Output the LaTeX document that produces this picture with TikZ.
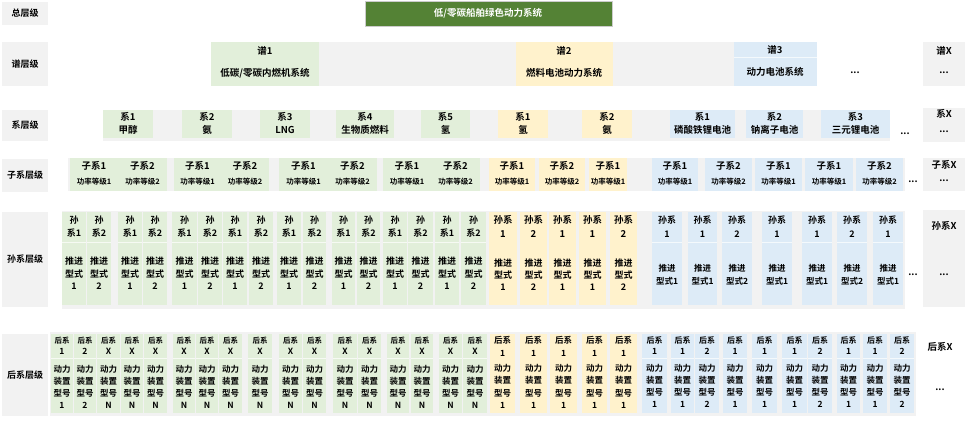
\documentclass[tikz,border=0pt]{standalone}
\usepackage{fontspec}
\setmainfont{Noto Sans CJK SC}[BoldFont={Noto Sans CJK SC Bold}]
\definecolor{tgreen}{HTML}{548235}
\definecolor{lgreen}{HTML}{E2EFDA}
\definecolor{lyellow}{HTML}{FFF2CC}
\definecolor{lblue}{HTML}{DDEBF7}
\definecolor{lgray}{HTML}{F2F2F2}
\begin{document}
\begin{tikzpicture}[x=1pt,y=-1pt,
  lab/.style={font=\bfseries\fontsize{9}{10}\selectfont, inner sep=0},
  t2/.style={font=\bfseries\fontsize{9.5}{11}\selectfont, inner sep=0},
  t4a/.style={font=\bfseries\fontsize{9.5}{11}\selectfont, inner sep=0},
  t4b/.style={font=\bfseries\fontsize{7.5}{9}\selectfont, inner sep=0},
  t5/.style={font=\bfseries\fontsize{9}{10}\selectfont, inner sep=0, align=center},
  t6/.style={font=\bfseries\fontsize{8.5}{10}\selectfont, inner sep=0, align=center},
  sep/.style={draw=white, line width=0.5pt, opacity=0.7}]
\useasboundingbox (0,0) rectangle (965,420);

% row labels
\foreach \ya/\yb/\tx [count=\i] in {2/25/总层级, 42/86/谱层级, 110/141/系层级, 159/192/子系层级, 212/307/孙系层级, 334/416/后系层级} {
  \fill[lgray] (2,\ya) rectangle (48,\yb);
  \node[lab] (L\i) at (25,{(\ya+\yb)/2}) {\tx};
}

% row 1
\filldraw[fill=tgreen, draw=gray!40] (365,1) rectangle (612,26);
\node[t2, text=white] (title) at (488,13.5) {低/零碳船舶绿色动力系统};

% row 2
\fill[lgray] (211,42) rectangle (817,86);
\fill[lgreen] (211,42) rectangle (319,86);
\fill[lyellow] (516,42) rectangle (613,86);
\fill[lblue] (734,42) rectangle (817,86);
\draw[sep] (734,57) -- (817,57);
\node[t2] (p1a) at (265,51) {谱1};
\node[t2] (p1b) at (265,73) {低碳/零碳内燃机系统};
\node[t2] (p2a) at (564,51) {谱2};
\node[t2] (p2b) at (564,73) {燃料电池动力系统};
\node[t2] (p3a) at (775,50) {谱3};
\node[t2] (p3b) at (775,72) {动力电池系统};
\node[t2] (pdots) at (855,73) {...};
\fill[lgray] (923,42) rectangle (965,86);
\node[t2] (pXa) at (944,51) {谱X};
\node[t2] (pXb) at (944,73) {...};

% row 3
\fill[lgray] (103,110) rectangle (890,141);
\foreach \xa/\xb/\c/\ta/\tb [count=\i] in {103/153/lgreen/系1/甲醇, 182/232/lgreen/系2/氨, 260/310/lgreen/系3/LNG, 336/394/lgreen/系4/生物质燃料, 421/470/lgreen/系5/氢, 498/548/lyellow/系1/氢, 582/632/lyellow/系2/氨, 670/735/lblue/系1/磷酸铁锂电池, 746/803/lblue/系2/钠离子电池, 821/890/lblue/系3/三元锂电池} {
  \fill[\c] (\xa,110) rectangle (\xb,138);
  \node[t2] (xa\i) at ({(\xa+\xb)/2},116.5) {\ta};
  \node[t2] (xb\i) at ({(\xa+\xb)/2},129.5) {\tb};
}
\node[t2] (xdots) at (905,134) {...};
\fill[lgray] (923,108) rectangle (965,142);
\node[t2] (xXa) at (944,114) {系X};
\node[t2] (xXb) at (944,132) {...};

% row 4
\fill[lgray] (68,158) rectangle (905,191);
\foreach \xa/\xb/\c/\n/\m [count=\i] in {70/118/lgreen/1/1, 118/167/lgreen/2/2, 174/221/lgreen/1/1, 221/269/lgreen/2/2, 279/328/lgreen/1/1, 328/377/lgreen/2/2, 383/431/lgreen/1/1, 431/480/lgreen/2/2, 489/535/lyellow/1/1, 539/585/lyellow/2/2, 589/627/lyellow/1/1, 652/698/lblue/1/1, 705/752/lblue/2/2, 755/802/lblue/1/1, 805/853/lblue/1/1, 856/903/lblue/2/2} {
  \fill[\c] (\xa,158) rectangle (\xb,191);
  \node[t4a] (za\i) at ({(\xa+\xb)/2},166) {子系\n};
  \node[t4b] (zb\i) at ({(\xa+\xb)/2},182) {功率等级\m};
}
\node[t2] (zdots) at (913,182) {...};
\fill[lgray] (923,158) rectangle (965,191);
\node[t4a] (zXa) at (944,165) {子系X};
\node[t2] (zXb) at (944,181) {...};

% row 5
\fill[lgray] (62,211) rectangle (905,309);
\foreach \xa/\xb/\n [count=\i] in {62/86/1, 87/111/2, 118/142/1, 143/167/2, 172/197/1, 198/222/2, 223/247/1, 249/273/2, 277/301/1, 303/326/2, 332/355/1, 357/380/2, 383/407/1, 408/433/2, 435/459/1, 461/486/2} {
  \fill[lgreen] (\xa,212) rectangle (\xb,305);
  \draw[sep] (\xa,242) -- (\xb,242);
  \node[t5] (sga\i) at ({(\xa+\xb)/2},220) {孙};
  \node[t5] (sgb\i) at ({(\xa+\xb)/2},233) {系\n};
  \node[t5, font=\bfseries\fontsize{9}{12.5}\selectfont] (sgc\i) at ({(\xa+\xb)/2},273.5) {推进\\型式\\\n};
}
\foreach \xa/\xb/\n [count=\i] in {489/517/1, 520/547/2, 549/576/1, 579/606/1, 610/637/2} {
  \fill[lyellow] (\xa,212) rectangle (\xb,305);
  \node[t5, font=\bfseries\fontsize{9.5}{11}\selectfont] (sya\i) at ({(\xa+\xb)/2},220) {孙系};
  \node[t5, font=\bfseries\fontsize{9.5}{11}\selectfont] (syb\i) at ({(\xa+\xb)/2},234) {\n};
  \node[t5, font=\bfseries\fontsize{9}{12}\selectfont] (syc\i) at ({(\xa+\xb)/2},275) {推进\\型式\\\n};
}
\foreach \xa/\xb/\n [count=\i] in {652/682/1, 688/717/1, 722/752/2, 762/792/1, 802/832/1, 837/867/2, 873/903/1} {
  \fill[lblue] (\xa,212) rectangle (\xb,305);
  \draw[sep] (\xa,242) -- (\xb,242);
  \node[t5] (sba\i) at ({(\xa+\xb)/2},220) {孙系};
  \node[t5] (sbb\i) at ({(\xa+\xb)/2},234) {\n};
  \node[t5, font=\bfseries\fontsize{8.5}{13}\selectfont] (sbc\i) at ({(\xa+\xb)/2},274.5) {推进\\型式\n};
}
\node[t2] (sdots) at (913,275) {...};
\fill[lgray] (923,210) rectangle (965,307);
\node[t4a] (sXa) at (944,226) {孙系X};
\node[t2] (sXb) at (944,275) {...};

% row 6
\fill[lgray] (50,332) rectangle (916,416);
\foreach \xa/\xb/\ta/\tb [count=\i] in {51/73/1/1, 74/96/2/2, 97/120/X/N, 121/143/X/N, 144/167/X/N, 173/195/X/N, 196/218/X/N, 219/242/X/N, 248/272/X/N, 279/302/X/N, 303/326/X/N, 333/357/X/N, 358/381/X/N, 387/409/X/N, 411/433/X/N, 439/462/X/N, 463/487/X/N} {
  \fill[lgreen] (\xa,334) rectangle (\xb,413);
  \draw[sep] (\xa,358) -- (\xb,358);
  \node[t6, font=\bfseries\fontsize{7.5}{9}\selectfont] (hga\i) at ({(\xa+\xb)/2},341) {后系};
  \node[t6] (hgb\i) at ({(\xa+\xb)/2},351) {\ta};
  \node[t6, font=\bfseries\fontsize{8.5}{12}\selectfont] (hgc\i) at ({(\xa+\xb)/2},387) {动力\\装置\\型号\\\tb};
}
\foreach \xa/\xb [count=\i] in {490/515, 520/547, 550/577, 582/607, 610/637} {
  \fill[lyellow] (\xa,334) rectangle (\xb,413);
  \node[t6, font=\bfseries\fontsize{8.5}{10}\selectfont] (hya\i) at ({(\xa+\xb)/2},340) {后系};
  \node[t6] (hyb\i) at ({(\xa+\xb)/2},353) {1};
  \node[t6, font=\bfseries\fontsize{8.5}{12.3}\selectfont] (hyc\i) at ({(\xa+\xb)/2},386.5) {动力\\装置\\型号\\1};
}
\foreach \xa/\xb/\n [count=\i] in {642/667/1, 671/694/1, 695/719/2, 723/747/1, 752/777/1, 782/807/1, 808/832/2, 837/860/1, 863/887/1, 890/914/2} {
  \fill[lblue] (\xa,334) rectangle (\xb,413);
  \draw[sep] (\xa,358) -- (\xb,358);
  \node[t6, font=\bfseries\fontsize{8}{9}\selectfont] (hba\i) at ({(\xa+\xb)/2},340) {后系};
  \node[t6] (hbb\i) at ({(\xa+\xb)/2},351) {\n};
  \node[t6, font=\bfseries\fontsize{8.5}{12}\selectfont] (hbc\i) at ({(\xa+\xb)/2},386) {动力\\装置\\型号\\\n};
}
\node[t4a] (hXa) at (940,347) {后系X};
\node[t2] (hXb) at (940,390) {...};
\end{tikzpicture}
\end{document}
